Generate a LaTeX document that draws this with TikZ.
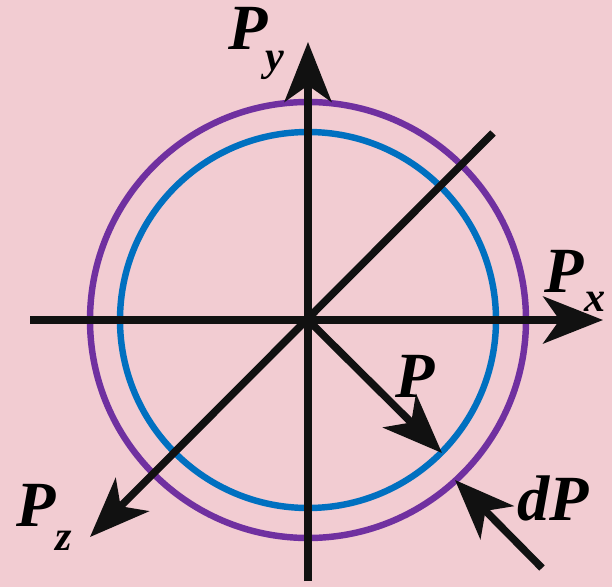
\documentclass[tikz,border=0pt]{standalone}
\usepackage{fontspec}
\setmainfont{Liberation Serif}
\usetikzlibrary{arrows.meta}
\definecolor{bgpink}{RGB}{242,204,210}
\definecolor{ringpurple}{RGB}{112,48,160}
\definecolor{ringblue}{RGB}{0,112,192}
\definecolor{inkblack}{RGB}{17,17,17}
\tikzset{
  axis/.style={draw=inkblack, line width=6.4pt,
    -{Stealth[length=51pt, width=40pt, inset=14pt]}},
  ring/.style={line width=5.5pt},
  bigP/.style={inner sep=0pt, font=\fontsize{55}{55}\selectfont\bfseries\itshape},
  subP/.style={inner sep=0pt, font=\fontsize{36}{36}\selectfont\bfseries\itshape}
}
\begin{document}
\begin{tikzpicture}[x=0.03cm, y=-0.03cm]
    % 背景
\fill[bgpink] (0,0) rectangle (612,587);
    % 中心与端点
\coordinate (O)  at (308, 320);
\coordinate (XL) at (30, 320);
\coordinate (XR) at (603, 320);
\coordinate (YB) at (308, 581);
\coordinate (YT) at (308, 42);
\coordinate (ZB) at (493, 133);
\coordinate (ZF) at (90, 537);
\coordinate (PT) at (442, 453);
\coordinate (DS) at (542, 568);
\coordinate (DT) at (455, 480);
    % 两个圆
\draw[ring, ringpurple] (O) circle (218);
\draw[ring, ringblue]   (O) circle (188);
    % 坐标轴
\draw[axis] (XL) -- (XR);
\draw[axis] (YB) -- (YT);
\draw[axis] (ZB) -- (ZF);
    % 矢量 P 与 dP
\draw[axis] (O)  -- (PT);
\draw[axis] (DS) -- (DT);
    % 标签
\node[bigP] (Py) at (248, 28)  {P};
\node[subP] (py) at (275, 65)  {y};
\node[bigP] (Px) at (564, 271) {P};
\node[subP] (px) at (595, 302) {x};
\node[bigP] (Pz) at (36, 505)  {P};
\node[subP] (pz) at (64, 541)  {z};
\node[bigP] (Pv) at (415, 376) {P};
\node[bigP] (dP) at (553, 498) {dP};
\end{tikzpicture}
\end{document}
